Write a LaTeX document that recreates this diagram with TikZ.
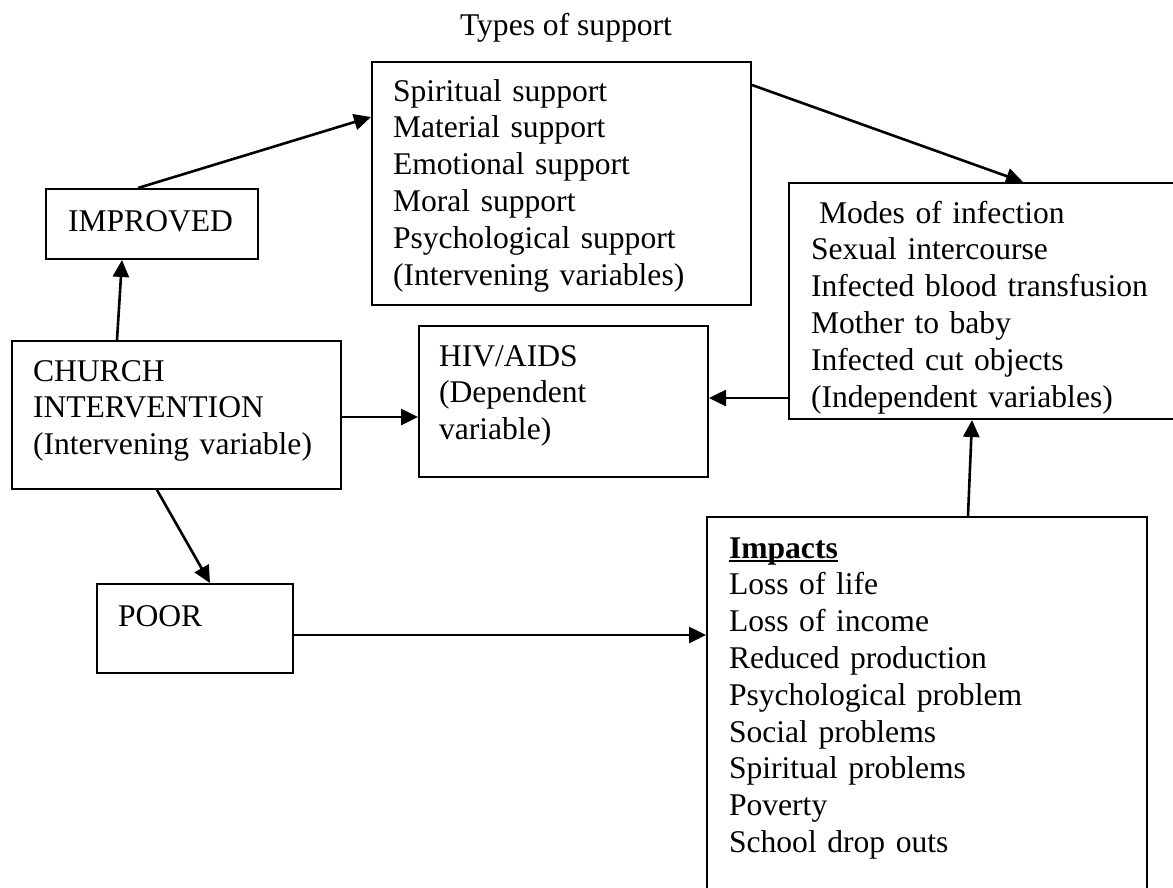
\documentclass[tikz,border=0pt]{standalone}
\usepackage{fontspec}
\setmainfont{Liberation Serif}
\usetikzlibrary{arrows.meta,calc}

\newcommand{\wordline}[1]{\setbox0\hbox{#1}\rlap{\rule[-4pt]{\wd0}{2.5pt}}\box0}

\tikzset{
  box/.style={draw, line width=2pt, anchor=north west, align=left,
    inner ysep=0pt, font=\fontsize{31.6}{36.8}\selectfont},
  arr/.style={line width=2.6pt, -{Triangle[length=17pt,width=16pt]}}
}

\begin{document}
\begin{tikzpicture}[x=1pt, y=-1pt]

\clip (0, 0) rectangle (1173, 887);

% title
\node[anchor=base, font=\fontsize{31.6}{36.8}\selectfont] (title) at (566, 35) {Types of support};

% boxes
\node[box, inner xsep=22pt, text width=168pt, text height=42pt, text depth=28pt] (improved) at (45, 188) {IMPROVED};
\node[box, inner xsep=21pt, text width=337pt, text height=39pt, text depth=204pt] (support) at (371, 61)
  {Spiritual support\\Material support\\Emotional support\\Moral support\\Psychological support\\(Intervening variables)};
\node[box, inner xsep=21pt, text width=287pt, text height=40pt, text depth=108pt] (church) at (11, 340)
  {CHURCH\\INTERVENTION\\(Intervening variable)};
\node[box, inner xsep=20pt, text width=249pt, text height=40pt, text depth=111pt] (hiv) at (418, 325)
  {HIV/AIDS\\(Dependent\\variable)};
\node[box, inner xsep=22pt, text width=368pt, text height=40pt, text depth=196pt] (modes) at (788, 182)
  {\hspace{8pt}Modes of infection\\Sexual intercourse\\Infected blood transfusion\\Mother to baby\\Infected cut objects\\(Independent variables)};
\node[box, inner xsep=21pt, text width=154pt, text height=42pt, text depth=47pt] (poor) at (96, 583) {POOR};
\node[box, inner xsep=22pt, text width=396pt, text height=41pt, text depth=343pt] (impacts) at (706, 516)
  {\textbf{\wordline{Impacts}}\\Loss of life\\Loss of income\\Reduced production\\Psychological problem\\Social problems\\Spiritual problems\\Poverty\\School drop outs};

% connectors
\draw[arr] ($(church.north west)+(106, 0)$) -- ($(improved.south west)+(77, 0)$);
\draw[arr] ($(improved.north west)+(93, 0)$) -- ($(support.north west)+(0, 56)$);
\draw[arr] ($(support.north east)+(0, 24)$) -- ($(modes.north west)+(235, 0)$);
\draw[arr] ($(church.north east)+(0, 77)$) -- ($(hiv.north west)+(0, 92)$);
\draw[arr] ($(modes.north west)+(0, 216)$) -- ($(hiv.north east)+(0, 73)$);
\draw[arr] ($(impacts.north west)+(262, 0)$) -- ($(modes.south west)+(184, 0)$);
\draw[arr] ($(church.south west)+(146, 0)$) -- ($(poor.north west)+(114, 0)$);
\draw[arr] ($(poor.north east)+(0, 52)$) -- ($(impacts.north west)+(0, 119)$);

\end{tikzpicture}
\end{document}
